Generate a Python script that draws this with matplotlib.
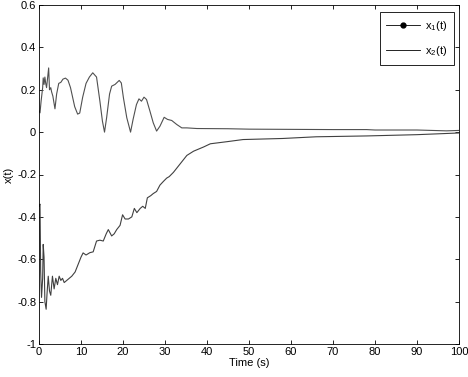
import matplotlib
matplotlib.use('Agg')
import matplotlib.pyplot as plt
from matplotlib.lines import Line2D

# x1(t)
t1 = [0, 0.24, 0.5, 0.87, 1.0, 1.2, 1.4, 1.6, 1.8, 2.3, 2.5, 2.8, 3.0, 3.3, 3.8, 4.2,
      4.7, 5.2, 5.7, 6.3, 6.9, 7.5, 8.0, 8.5, 9.2, 9.7, 10.4, 11.2, 12.0, 12.8, 13.7,
      14.5, 15.1, 15.6, 16.1, 16.8, 17.3, 18.1, 19.1, 19.6, 20.1, 20.9, 21.8, 22.4,
      23.2, 23.8, 24.4, 25.0, 25.6, 26.4, 27.2, 28.0, 28.8, 29.8, 30.6, 31.6, 32.8,
      34.0, 35.2, 37.6, 45, 50, 60, 70, 78, 80, 90, 97, 100]
x1 = [0.10, 0.091, 0.146, 0.21, 0.256, 0.225, 0.26, 0.23, 0.21, 0.303, 0.20, 0.21,
      0.19, 0.17, 0.11, 0.18, 0.23, 0.235, 0.25, 0.255, 0.245, 0.21, 0.165, 0.12,
      0.085, 0.09, 0.165, 0.23, 0.26, 0.28, 0.26, 0.146, 0.052, 0.0, 0.068, 0.18,
      0.217, 0.225, 0.244, 0.232, 0.162, 0.068, 0.0, 0.06, 0.13, 0.157, 0.146, 0.165,
      0.154, 0.10, 0.044, 0.005, 0.028, 0.07, 0.06, 0.055, 0.036, 0.02, 0.02, 0.017,
      0.016, 0.014, 0.013, 0.012, 0.012, 0.010, 0.010, 0.006, 0.008]

# x2(t)
t2 = [0, 0.24, 0.4, 0.6, 0.87, 1.0, 1.2, 1.4, 1.7, 1.9, 2.2, 2.5, 2.8, 3.2, 3.6, 4.0,
      4.4, 4.8, 5.2, 5.6, 6.0, 6.6, 7.2, 7.8, 8.6, 9.2, 10.0, 10.5, 11.2, 12.1, 12.9,
      13.7, 14.5, 15.3, 16.0, 16.5, 17.3, 17.9, 18.5, 19.3, 19.9, 20.5, 21.3, 22.1,
      22.7, 23.3, 24.1, 24.7, 25.3, 25.8, 26.6, 27.2, 28.0, 28.8, 29.6, 30.4, 31.0,
      32.0, 33.6, 35.2, 36.8, 39.2, 40.8, 44.8, 48.6, 58, 66, 78, 90, 100]
x2 = [-0.35, -0.34, -0.656, -0.78, -0.69, -0.53, -0.59, -0.80, -0.836, -0.766, -0.68,
      -0.75, -0.77, -0.68, -0.74, -0.69, -0.72, -0.68, -0.70, -0.69, -0.71, -0.70,
      -0.69, -0.68, -0.66, -0.63, -0.59, -0.57, -0.58, -0.569, -0.565, -0.514, -0.51,
      -0.514, -0.48, -0.46, -0.49, -0.48, -0.46, -0.44, -0.39, -0.41, -0.41, -0.40,
      -0.36, -0.38, -0.36, -0.35, -0.36, -0.31, -0.30, -0.29, -0.28, -0.25, -0.233,
      -0.217, -0.21, -0.19, -0.15, -0.11, -0.09, -0.07, -0.055, -0.045, -0.035,
      -0.03, -0.022, -0.018, -0.012, -0.004]

plt.rcParams['font.family'] = 'Liberation Sans'
plt.rcParams['font.size'] = 8
plt.rcParams['mathtext.fontset'] = 'custom'
plt.rcParams['mathtext.rm'] = 'Liberation Sans'
plt.rcParams['mathtext.it'] = 'Liberation Sans'

fig = plt.figure(figsize=(4.68, 3.77), dpi=100)
ax = fig.add_axes([39 / 468, 1 - 344 / 377, 420 / 468, 339 / 377])

ax.plot(t1, x1, color='#505050', linewidth=0.8)
ax.plot(t2, x2, color='#404040', linewidth=0.8)

ax.set_xlim(0, 100)
ax.set_ylim(-1, 0.6)
ax.set_xticks(range(0, 101, 10))
ax.set_yticks([-1, -0.8, -0.6, -0.4, -0.2, 0, 0.2, 0.4, 0.6])
ax.set_yticklabels(['-1', '-0.8', '-0.6', '-0.4', '-0.2', '0', '0.2', '0.4', '0.6'])
ax.tick_params(direction='in', top=True, right=True, length=3, width=0.6, pad=2,
               labelsize=8)
for s in ax.spines.values():
    s.set_linewidth(0.6)

ax.set_xlabel('Time (s)', labelpad=1)
ax.set_ylabel('x(t)', labelpad=2)

handles = [Line2D([], [], color='black', linewidth=0.6, marker='o', markersize=3.5),
           Line2D([], [], color='black', linewidth=0.6)]
leg = ax.legend(handles, ['x$_\\mathrm{1}$(t)', 'x$_\\mathrm{2}$(t)'], loc='upper right',
                bbox_to_anchor=(0.988, 0.979), borderaxespad=0, fancybox=False,
                framealpha=1, edgecolor='black', handlelength=3.0, handletextpad=0.5,
                borderpad=0.6, labelspacing=1.0, fontsize=8, numpoints=1)
leg.get_frame().set_linewidth(0.6)

fig.savefig('out.png', dpi=100)
